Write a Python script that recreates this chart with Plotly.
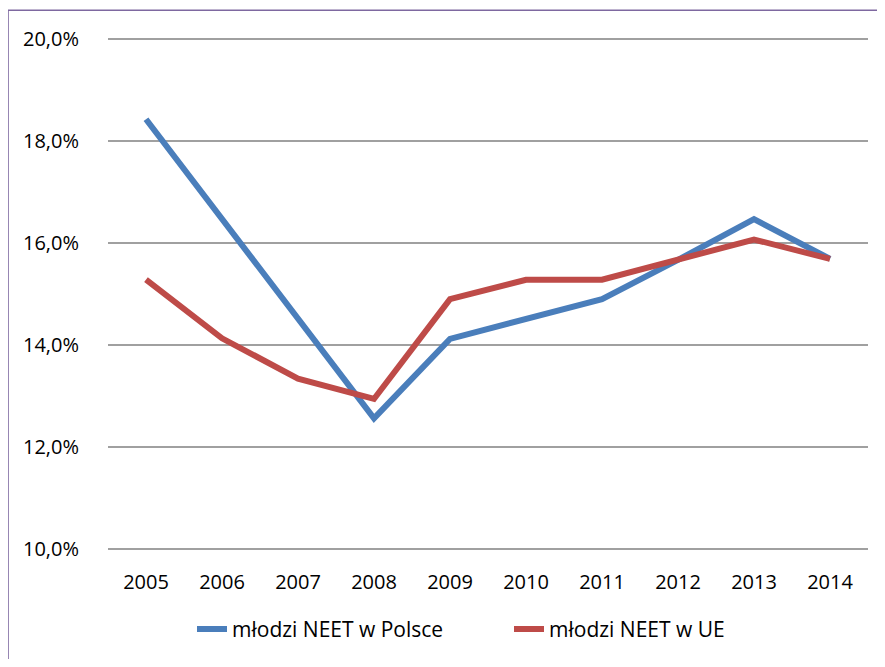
import plotly.graph_objects as go

years = ["2005", "2006", "2007", "2008", "2009", "2010", "2011", "2012", "2013", "2014"]
neet_polska = [18.43, 16.48, 14.52, 12.56, 14.12, 14.51, 14.90, 15.67, 16.47, 15.69]
neet_ue = [15.28, 14.13, 13.34, 12.94, 14.90, 15.28, 15.28, 15.67, 16.07, 15.69]
name_pl = "młodzi NEET w Polsce"
name_ue = "młodzi NEET w UE"
y_ticks = [10, 12, 14, 16, 18, 20]
y_tick_text = ["10,0%", "12,0%", "14,0%", "16,0%", "18,0%", "20,0%"]

FONT = "Open Sans"
OFF = 8  # page body margin
W, H = 885 - 2 * OFF, 667 - 2 * OFF
L, T = 108 - OFF, 38 - OFF
PR, PB = 868 - OFF, 555 - OFF
R, B = W - PR, H - PB
pw, ph = PR - L, PB - T

def px_x(x):
    return (x - OFF - L) / pw

def px_y(y):
    return (PB - (y - OFF)) / ph

fig = go.Figure()
fig.add_trace(go.Scatter(x=years, y=neet_polska, mode="lines", name=name_pl,
                         line=dict(color="#4a7ebb", width=6)))
fig.add_trace(go.Scatter(x=years, y=neet_ue, mode="lines", name=name_ue,
                         line=dict(color="#be4b48", width=6)))

fig.update_layout(
    width=W, height=H,
    margin=dict(l=L, r=R, t=T, b=B),
    paper_bgcolor="white", plot_bgcolor="white",
    font=dict(family=FONT, size=20, color="#000000"),
    showlegend=True,
    legend=dict(orientation="h", x=px_x(192), y=px_y(635), xanchor="left", yanchor="middle",
                font=dict(family=FONT, size=21, color="#000000"),
                entrywidth=272, entrywidthmode="pixels",
                bgcolor="rgba(0,0,0,0)", itemclick=False),
    xaxis=dict(type="category", range=[-0.5, 9.5], showgrid=False, zeroline=False,
               showline=False, ticks="outside", ticklen=14, tickcolor="rgba(0,0,0,0)",
               tickfont=dict(family=FONT, size=20, color="#000000")),
    yaxis=dict(range=[9.975, 20.025], tickvals=y_ticks, ticktext=y_tick_text,
               showgrid=True, gridcolor="#a0a0a0", gridwidth=1.6, zeroline=False,
               showline=False, ticks="outside", ticklen=24, tickcolor="rgba(0,0,0,0)",
               tickfont=dict(family=FONT, size=20, color="#000000")),
    shapes=[dict(type="rect", xref="paper", yref="paper",
                 x0=px_x(8), x1=px_x(900), y0=px_y(690), y1=px_y(10),
                 line=dict(color="#7e68a0", width=1.6), fillcolor="rgba(0,0,0,0)", layer="below")],
)

fig.write_html("out.html")
